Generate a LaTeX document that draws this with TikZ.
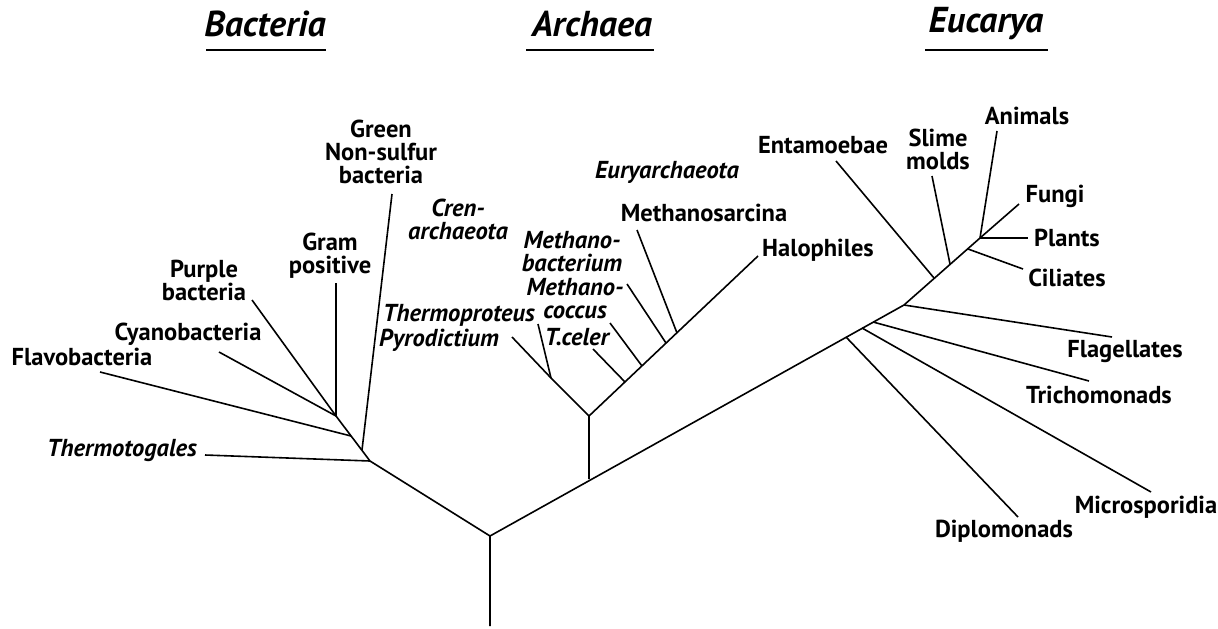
\documentclass[tikz,border=0pt]{standalone}
\usepackage{fontspec}
\setmainfont{PT Sans}
\usepackage{xcolor}
\usepackage{tikz}

\begin{document}
\begin{tikzpicture}[x=1pt,y=-1pt,line width=1.6pt,
  lbl/.style={font=\fontsize{24.5}{23}\selectfont\bfseries,align=center,inner sep=0pt},
  ilbl/.style={lbl,font=\fontsize{24.5}{23}\selectfont\bfseries\itshape},
  head/.style={font=\fontsize{36}{36}\selectfont\bfseries\itshape,inner sep=0pt}]
\useasboundingbox (0,0) rectangle (1218,629);

% headings
\node[head] (hbac) at (265,24) {Bacteria};
\node[head] (harc) at (592,24) {Archaea};
\node[head] (heuc) at (986,24) {Eucarya};
\draw (206,50) -- (326,50);
\draw (526,50) -- (654,50);
\draw (925,50) -- (1048,50);

% tree points
\coordinate (bot) at (490,626);
\coordinate (root) at (490,536);
\coordinate (bac) at (370,461);
\coordinate (bgreen) at (362,450);
\coordinate (bflavo) at (351,436);
\coordinate (bgp) at (336,416);
\coordinate (arc) at (589,479);
\coordinate (arc1) at (589,416);
\coordinate (cren) at (551,378);
\coordinate (atc) at (625,382);
\coordinate (amc) at (642,366);
\coordinate (amb) at (666,343);
\coordinate (ams) at (677,333);
\coordinate (ed) at (846,337);
\coordinate (em) at (862,328);
\coordinate (et) at (873,322);
\coordinate (ef) at (904,305);
\coordinate (een) at (934,278);
\coordinate (esl) at (950,264);
\coordinate (eci) at (968,249);
\coordinate (ecr) at (980,238);

% tips
\coordinate (tthermo) at (205,455);
\coordinate (tflavo) at (100,372);
\coordinate (tcyano) at (219,352);
\coordinate (tpurple) at (252,300);
\coordinate (tgram) at (336,283);
\coordinate (tgreen) at (392,194);
\coordinate (tpyro) at (512,337);
\coordinate (ttp) at (538,324);
\coordinate (ttc) at (593,349);
\coordinate (tmc) at (610,323);
\coordinate (tmb) at (627,284);
\coordinate (tms) at (637,230);
\coordinate (thalo) at (758,256);
\coordinate (tdiplo) at (1018,517);
\coordinate (tmicro) at (1151,492);
\coordinate (ttricho) at (1089,381);
\coordinate (tflag) at (1112,337);
\coordinate (tent) at (836,161);
\coordinate (tslime) at (932,176);
\coordinate (tcil) at (1023,269);
\coordinate (tplant) at (1028,238);
\coordinate (tfungi) at (1019,204);
\coordinate (tanim) at (997,131);

% branches
\draw (bot) -- (root) -- (bac) -- (bgp) -- (tgram);
\draw (bac) -- (tthermo);
\draw (bgreen) -- (tgreen);
\draw (bflavo) -- (tflavo);
\draw (bgp) -- (tcyano);
\draw (bgp) -- (tpurple);
\draw (root) -- (ef) -- (ecr) -- (tanim);
\draw (arc) -- (arc1) -- (cren) -- (tpyro);
\draw (cren) -- (ttp);
\draw (arc1) -- (thalo);
\draw (atc) -- (ttc);
\draw (amc) -- (tmc);
\draw (amb) -- (tmb);
\draw (ams) -- (tms);
\draw (ed) -- (tdiplo);
\draw (em) -- (tmicro);
\draw (et) -- (ttricho);
\draw (ef) -- (tflag);
\draw (een) -- (tent);
\draw (esl) -- (tslime);
\draw (eci) -- (tcil);
\draw (ecr) -- (tplant);
\draw (ecr) -- (tfungi);

% labels
\node[ilbl] (lthermo) at (122,451) {Thermotogales};
\node[lbl] (lflavo) at (82,357) {Flavobacteria};
\node[lbl] (lcyano) at (188,334) {Cyanobacteria};
\node[lbl] (lpurple) at (204,280) {Purple\\bacteria};
\node[lbl] (lgram) at (330,256) {Gram\\positive};
\node[lbl] (lgreen) at (381,152) {Green\\Non-sulfur\\bacteria};
\node[ilbl] (lcren) at (458,219) {Cren-\\archaeota};
\node[ilbl] (leury) at (667,172) {Euryarchaeota};
\node[lbl] (lms) at (704,213) {Methanosarcina};
\node[lbl] (lhalo) at (818,250) {Halophiles};
\node[ilbl] (lmb) at (572,252) {Methano-\\bacterium};
\node[ilbl] (lmc) at (575,299) {Methano-\\coccus};
\node[ilbl] (ltc) at (577,337) {T.celer};
\node[ilbl] (ltp) at (459,315) {Thermoproteus};
\node[ilbl] (lpyro) at (439,340) {Pyrodictium};
\node[lbl] (lent) at (823,145) {Entamoebae};
\node[lbl] (lslime) at (938,149) {Slime\\molds};
\node[lbl] (lanim) at (1027,116) {Animals};
\node[lbl] (lfungi) at (1055,196) {Fungi};
\node[lbl] (lplant) at (1067,238) {Plants};
\node[lbl] (lcil) at (1067,278) {Ciliates};
\node[lbl] (lflag) at (1125,352) {Flagellates};
\node[lbl] (ltricho) at (1099,395) {Trichomonads};
\node[lbl] (lmicro) at (1146,507) {Microsporidia};
\node[lbl] (ldiplo) at (1004,531) {Diplomonads};
\end{tikzpicture}
\end{document}
